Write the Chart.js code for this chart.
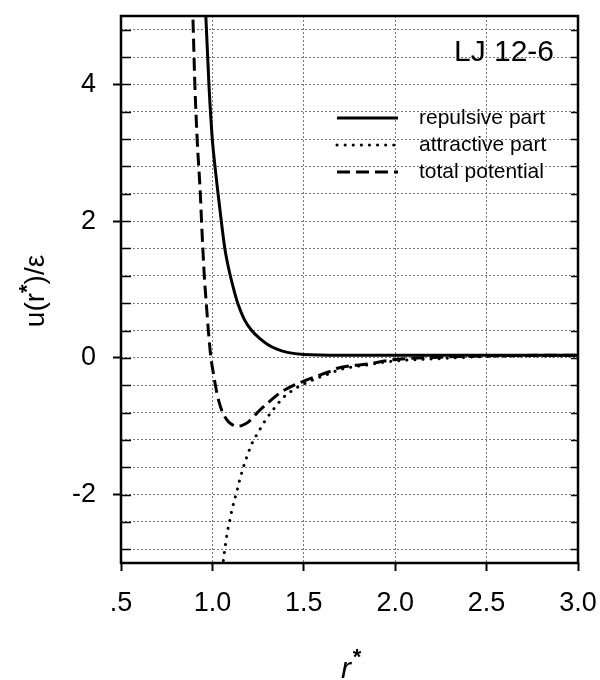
<!DOCTYPE html>
<html>
<head>
<meta charset="utf-8">
<script src="https://cdn.jsdelivr.net/npm/chart.js@4.4.1/dist/chart.umd.min.js"></script>
<style>
  html, body { margin: 0; background: #fff; }
</style>
</head>
<body>
<canvas id="c" width="600" height="680"></canvas>
<script>
// values (r*, u(r*)/eps)
const repR = [0.955, 0.964, 0.981, 1.0, 1.015, 1.031, 1.05, 1.068, 1.08, 1.099, 1.12, 1.141, 1.175, 1.215, 1.26, 1.30, 1.35, 1.41, 1.50, 1.70, 2.0, 2.5, 3.0];
const repU = [5.6, 5.0, 4.0, 3.18, 2.78, 2.4, 1.97, 1.60, 1.42, 1.19, 0.97, 0.78, 0.56, 0.40, 0.28, 0.20, 0.13, 0.08, 0.05, 0.04, 0.04, 0.04, 0.04];

const attR = [1.05, 1.059, 1.07, 1.083, 1.095, 1.11, 1.123, 1.135, 1.15, 1.166, 1.18, 1.195, 1.213, 1.235, 1.257, 1.283, 1.32, 1.35, 1.38, 1.43, 1.50, 1.63, 1.70, 1.85, 1.98, 2.25, 2.5, 3.0];
const attU = [-3.2, -2.98, -2.76, -2.53, -2.38, -2.19, -2.06, -1.94, -1.78, -1.63, -1.51, -1.40, -1.27, -1.16, -1.06, -0.94, -0.80, -0.70, -0.60, -0.49, -0.38, -0.24, -0.17, -0.10, -0.05, -0.01, 0.02, 0.03];

const totR = [0.885, 0.893, 0.904, 0.917, 0.934, 0.941, 0.956, 0.967, 0.978, 0.992, 1.005, 1.015, 1.025, 1.036, 1.05, 1.068, 1.09, 1.11, 1.132, 1.16, 1.196, 1.246, 1.307, 1.371, 1.43, 1.50, 1.63, 1.70, 1.85, 1.98, 2.25, 2.5, 3.0];
const totU = [5.5, 5.0, 4.0, 3.18, 2.4, 1.97, 1.19, 0.78, 0.40, 0.0, -0.22, -0.38, -0.52, -0.64, -0.76, -0.86, -0.94, -0.98, -1.0, -0.99, -0.94, -0.80, -0.65, -0.51, -0.42, -0.34, -0.21, -0.14, -0.09, -0.03, 0.01, 0.03, 0.04];

const seriesNames = ['repulsive part', 'attractive part', 'total potential'];

const xTicks = [0.5, 1.0, 1.5, 2.0, 2.5, 3.0];
const xTickLabels = ['.5', '1.0', '1.5', '2.0', '2.5', '3.0'];
const yGrid = [-2.8, -2.4, -2, -1.6, -1.2, -0.8, -0.4, 0, 0.4, 0.8, 1.2, 1.6, 2, 2.4, 2.8, 3.2, 3.6, 4, 4.4, 4.8];
const yLabelled = [-2, 0, 2, 4];

const FONT = '"Liberation Sans", Arial, sans-serif';

function pts(xs, ys){
  return xs.map((x, i) => ({ x: x, y: ys[i] }));
}

// frame, inner ticks, legend, labels and axis titles
const extras = {
  id: 'extras',
  afterDraw(chart){
    const ctx = chart.ctx;
    const a = chart.chartArea;
    const ys = chart.scales.y;
    ctx.save();

    // inward minor ticks
    ctx.strokeStyle = '#000';
    ctx.lineWidth = 1.5;
    yGrid.forEach(v => {
      const py = Math.round(ys.getPixelForValue(v)) + 0.5;
      ctx.beginPath();
      ctx.moveTo(a.left, py); ctx.lineTo(a.left + 10, py);
      ctx.moveTo(a.right - 7, py); ctx.lineTo(a.right, py);
      ctx.stroke();
    });

    // frame
    ctx.lineWidth = 2.5;
    ctx.strokeRect(a.left, a.top, a.right - a.left, a.bottom - a.top);

    // LJ label
    ctx.fillStyle = '#000';
    ctx.font = '30px ' + FONT;
    ctx.textAlign = 'center';
    ctx.textBaseline = 'middle';
    ctx.fillText('LJ 12-6', 504, 53);

    // legend
    const order = [0, 1, 2];
    ctx.font = '21px ' + FONT;
    ctx.textAlign = 'left';
    order.forEach((di, k) => {
      const ds = chart.data.datasets[di];
      const ly = 118 + k * 27;
      ctx.save();
      ctx.lineWidth = ds.borderWidth;
      ctx.setLineDash(ds.borderDash || []);
      ctx.lineCap = ds.borderCapStyle || 'butt';
      ctx.beginPath();
      ctx.moveTo(337, ly); ctx.lineTo(398, ly);
      ctx.stroke();
      ctx.restore();
      ctx.fillText(ds.label, 419, ly);
    });

    // x title r*
    ctx.font = 'italic 30px ' + FONT;
    ctx.textAlign = 'center';
    ctx.textBaseline = 'alphabetic';
    ctx.fillText('r', 346, 678);
    ctx.font = 'bold 22px ' + FONT;
    ctx.fillText('*', 357, 664);

    // y title u(r*)/ε
    ctx.translate(36, 291);
    ctx.rotate(-Math.PI / 2);
    ctx.textAlign = 'left';
    ctx.textBaseline = 'middle';
    const p1 = 'u(r', p2 = ')/ε';
    ctx.font = '28px ' + FONT;
    const w1 = ctx.measureText(p1).width, w2 = ctx.measureText(p2).width;
    ctx.font = 'bold 22px ' + FONT;
    const ws = ctx.measureText('*').width;
    const x0 = -(w1 + ws + w2) / 2;
    ctx.font = '28px ' + FONT;
    ctx.fillText(p1, x0, 0);
    ctx.fillText(p2, x0 + w1 + ws, 0);
    ctx.font = 'bold 22px ' + FONT;
    ctx.fillText('*', x0 + w1, -8);

    ctx.restore();
  }
};

new Chart(document.getElementById('c'), {
  type: 'line',
  data: {
    datasets: [
      {
        label: seriesNames[0],
        data: pts(repR, repU),
        borderColor: '#000',
        borderWidth: 3,
        pointRadius: 0,
        cubicInterpolationMode: 'monotone',
        order: 2
      },
      {
        label: seriesNames[1],
        data: pts(attR, attU),
        borderColor: '#000',
        borderWidth: 3,
        borderDash: [0.1, 8],
        borderCapStyle: 'round',
        pointRadius: 0,
        cubicInterpolationMode: 'monotone',
        order: 3
      },
      {
        label: seriesNames[2],
        data: pts(totR, totU),
        borderColor: '#000',
        borderWidth: 3,
        borderDash: [13, 6],
        pointRadius: 0,
        cubicInterpolationMode: 'monotone',
        order: 1
      }
    ]
  },
  options: {
    responsive: false,
    animation: false,
    layout: { padding: { top: 16, right: 22, left: 0, bottom: 0 } },
    plugins: { legend: { display: false }, tooltip: { enabled: false } },
    scales: {
      x: {
        type: 'linear',
        min: 0.5,
        max: 3.0,
        afterBuildTicks: s => { s.ticks = xTicks.map(v => ({ value: v })); },
        afterFit: s => { s.height = 117; s.paddingLeft = 0; s.paddingRight = 0; },
        ticks: {
          autoSkip: false,
          maxRotation: 0,
          color: '#000',
          padding: 16,
          font: { size: 27, family: FONT },
          callback: (v, i) => xTickLabels[i]
        },
        grid: {
          color: c => (c.tick && (c.tick.value === 0.5 || c.tick.value === 3.0)) ? 'rgba(0,0,0,0)' : '#777',
          lineWidth: 1,
          tickColor: '#000',
          tickWidth: 2,
          tickLength: 8
        },
        border: { display: false, dash: [2, 2] }
      },
      y: {
        type: 'linear',
        min: -3,
        max: 5,
        afterBuildTicks: s => { s.ticks = yGrid.map(v => ({ value: v })); },
        afterFit: s => { s.width = 121; s.paddingTop = 0; s.paddingBottom = 0; },
        ticks: {
          autoSkip: false,
          color: '#000',
          padding: 17,
          font: { size: 27, family: FONT },
          callback: v => yLabelled.includes(v) ? String(v) : ''
        },
        grid: {
          color: '#777',
          lineWidth: 1,
          tickColor: c => (c.tick && yLabelled.includes(c.tick.value)) ? '#000' : 'rgba(0,0,0,0)',
          tickWidth: 2,
          tickLength: 8
        },
        border: { display: false, dash: [2, 2] }
      }
    }
  },
  plugins: [extras]
});
</script>
</body>
</html>
